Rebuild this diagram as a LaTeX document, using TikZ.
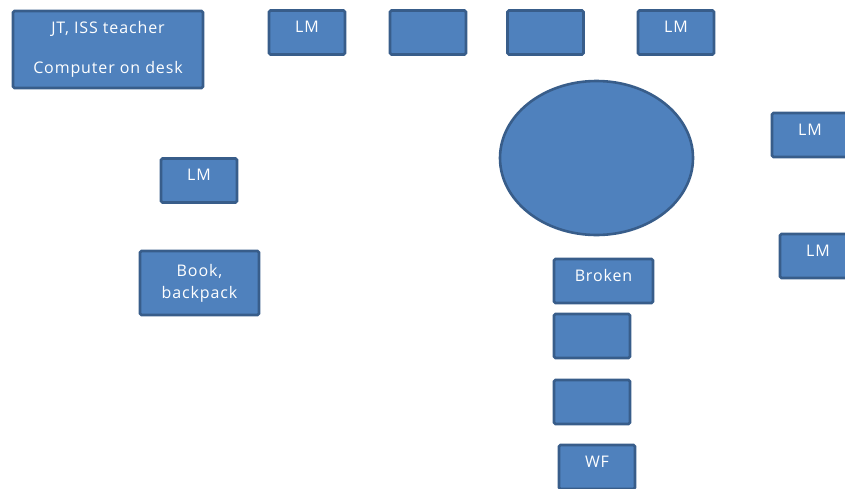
\documentclass[tikz,border=0pt]{standalone}
\usepackage{fontspec}
\setmainfont[LetterSpace=5.5]{Open Sans}
\usetikzlibrary{positioning, shapes.geometric}
\definecolor{deskfill}{RGB}{79, 129, 189}
\definecolor{deskline}{RGB}{56, 93, 138}

\begin{document}
\begin{tikzpicture}[x=1pt, y=-1pt,
                desk/.style={
                    rectangle,
                    rounded corners=1.5pt,
                    fill=deskfill,
                    draw=deskline,
                    line width=2.6pt,
                    minimum width=76pt,
                    minimum height=44pt,
                    align=center,
                    text=white,
                    font=\fontsize{16}{18}\selectfont,
                    text height=8pt,
                    text depth=8pt,
                    inner sep=0pt
                },
                twoline/.style={text height={}, text depth={}}
            ]
                \useasboundingbox (0,0) rectangle (845,488);
                \clip (0,0) rectangle (845,488);
                % front of the room
                \node[desk, twoline, minimum width=190pt, minimum height=77pt] (teacher) at (108,49.5) {JT, ISS teacher\\[22pt]Computer on desk};
                \node[desk] (lma) at (307,32.5) {LM};
                \node[desk] (topb) at (428,32.5) {};
                \node[desk] (topc) at (545.5,32.5) {};
                \node[desk] (lmb) at (676,32.5) {LM};
                % round table
                \node[ellipse, fill=deskfill, draw=deskline, line width=2.6pt, minimum width=193pt, minimum height=154pt, inner sep=0pt] (table) at (596.5,158) {};
                \node[desk] (lmc) at (810,135) {LM};
                \node[desk] (lmd) at (818,256) {LM};
                % left side
                \node[desk] (lme) at (199,180.5) {LM};
                \node[desk, twoline, minimum width=119pt, minimum height=64pt] (book) at (199.5,283) {Book,\\[4pt]backpack};
                % row below the table
                \node[desk, minimum width=99pt] (broken) at (603.5,281) {Broken};
                \node[desk] (rowa) at (592,336) {};
                \node[desk] (rowb) at (592,402) {};
                \node[desk] (wf) at (597,467) {WF};
            \end{tikzpicture}
\end{document}
